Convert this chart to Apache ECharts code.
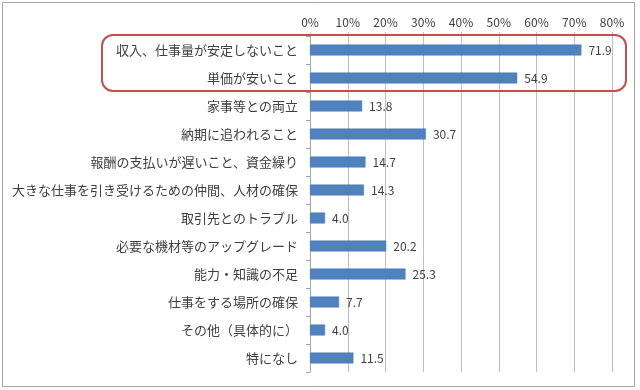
<!DOCTYPE html>
<html>
<head>
<meta charset="utf-8">
<script src="https://cdn.jsdelivr.net/npm/echarts@6/dist/echarts.min.js"></script>
<style>
html,body{margin:0;padding:0;background:#fff;}
#main{width:640px;height:390px;}
</style>
</head>
<body>
<div id="main"></div>
<script>
const categories = [
  '収入、仕事量が安定しないこと',
  '単価が安いこと',
  '家事等との両立',
  '納期に追われること',
  '報酬の支払いが遅いこと、資金繰り',
  '大きな仕事を引き受けるための仲間、人材の確保',
  '取引先とのトラブル',
  '必要な機材等のアップグレード',
  '能力・知識の不足',
  '仕事をする場所の確保',
  'その他（具体的に）',
  '特になし'
];
const values = [71.9, 54.9, 13.8, 30.7, 14.7, 14.3, 4.0, 20.2, 25.3, 7.7, 4.0, 11.5];
const xTicks = [0, 10, 20, 30, 40, 50, 60, 70, 80];

const FONT = '"Noto Sans CJK JP", "Noto Sans", sans-serif';
const chart = echarts.init(document.getElementById('main'), null, {renderer: 'canvas'});
const option = {
  animation: false,
  backgroundColor: '#ffffff',
  grid: {left: 310, right: 28, top: 36, bottom: 18, containLabel: false},
  xAxis: {
    type: 'value',
    position: 'top',
    min: xTicks[0],
    max: xTicks[xTicks.length - 1],
    interval: 10,
    axisLine: {show: false},
    axisTick: {show: true, length: 4, lineStyle: {color: '#BFBFBF'}},
    splitLine: {show: true, lineStyle: {color: '#BFBFBF', width: 1}},
    axisLabel: {
      formatter: v => v + '%',
      color: '#404040',
      fontSize: 12,
      fontFamily: FONT,
      margin: 8
    }
  },
  yAxis: {
    type: 'category',
    data: categories,
    inverse: true,
    axisLine: {show: true, lineStyle: {color: '#A6A6A6'}},
    axisTick: {show: true, length: 4, lineStyle: {color: '#A6A6A6'}},
    axisLabel: {color: '#404040', fontSize: 13, fontFamily: FONT, margin: 12}
  },
  series: [{
    type: 'bar',
    data: values,
    barWidth: 11,
    itemStyle: {color: '#4F81BD', borderColor: '#4A7EBB', borderWidth: 0.5},
    label: {
      show: true,
      position: 'right',
      distance: 7,
      formatter: p => p.value.toFixed(1),
      color: '#404040',
      fontSize: 12,
      fontFamily: FONT
    }
  }]
};
chart.setOption(option);

// annotation box around first two categories, positioned from the axis scale
const y0 = chart.convertToPixel({yAxisIndex: 0}, categories[0]);
const y1 = chart.convertToPixel({yAxisIndex: 0}, categories[1]);
const step = y1 - y0;
const boxTop = y0 - step / 2 - 1;
const boxBottom = y1 + step / 2 - 1;
chart.setOption({
  graphic: [
    {
      type: 'rect',
      shape: {x: 2.5, y: 2.5, width: 632, height: 384},
      style: {fill: 'none', stroke: '#A6A6A6', lineWidth: 1},
      silent: true,
      z: 0
    },
    {
      type: 'rect',
      shape: {x: 102, y: boxTop, width: 524, height: boxBottom - boxTop, r: 11},
      style: {fill: 'none', stroke: '#C0504D', lineWidth: 2},
      silent: true,
      z: 100
    }
  ]
});
</script>
</body>
</html>
